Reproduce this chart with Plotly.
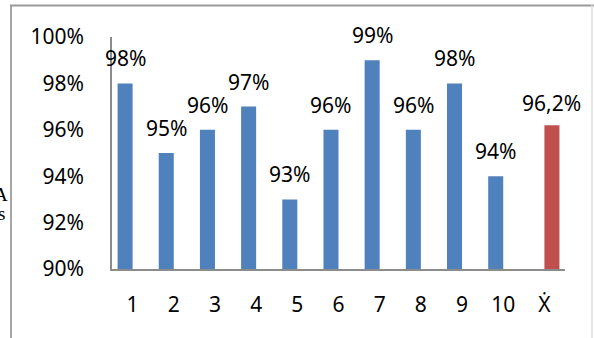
import plotly.graph_objects as go

categories = ["1", "2", "3", "4", "5", "6", "7", "8", "9", "10", "Ẋ"]
sample_cats = categories[:10]
sample_values = [0.98, 0.95, 0.96, 0.97, 0.93, 0.96, 0.99, 0.96, 0.98, 0.94]
sample_labels = ["98%", "95%", "96%", "97%", "93%", "96%", "99%", "96%", "98%", "94%"]
mean_cat = ["Ẋ"]
mean_value = [0.962]
mean_label = ["96,2%"]
y_ticks = [0.90, 0.92, 0.94, 0.96, 0.98, 1.00]
y_ticktext = ["90%", "92%", "94%", "96%", "98%", "100%"]

W, H = 594, 338
L, R, T, B = 112, 565, 37, 269
BW = 0.365  # bar width in category units

fig = go.Figure()
fig.add_trace(go.Bar(x=sample_cats, y=sample_values, marker_color="#4F81BD",
                     marker_line_width=0, width=BW, offset=-BW, name="s1"))
fig.add_trace(go.Bar(x=mean_cat, y=mean_value, marker_color="#C0504D",
                     marker_line_width=0, width=BW, offset=0, name="s2"))

font = dict(family="Noto Sans", size=21, color="#000000")
ann = []
for c, v, t in zip(sample_cats, sample_values, sample_labels):
    ann.append(dict(x=categories.index(c) - BW / 2, y=v, text=t, showarrow=False,
                    xref="x", yref="y", yshift=25, yanchor="middle", font=font))
for c, v, t in zip(mean_cat, mean_value, mean_label):
    ann.append(dict(x=categories.index(c) + BW / 2, y=v, text=t, showarrow=False,
                    xref="x", yref="y", yshift=22, yanchor="middle", font=font))

def px(x):
    return (x - L) / (R - L)

def py(y):
    return (B - y) / (B - T)

ann.append(dict(x=px(10), y=py(194), xref="paper", yref="paper", text="A",
                showarrow=False, xanchor="right", yanchor="middle",
                font=dict(family="Liberation Serif", size=19, color="#000")))
ann.append(dict(x=px(7), y=py(213), xref="paper", yref="paper", text="s",
                showarrow=False, xanchor="right", yanchor="middle",
                font=dict(family="Liberation Serif", size=19, color="#000")))

shapes = [
    dict(type="line", xref="paper", yref="paper", x0=px(11), x1=px(11), y0=py(5), y1=py(345),
         line=dict(color="#a6a6a6", width=2)),
    dict(type="line", xref="paper", yref="paper", x0=px(10), x1=px(600), y0=py(5.5), y1=py(5.5),
         line=dict(color="#9a9a9a", width=2)),
    dict(type="line", xref="paper", yref="paper", x0=px(592), x1=px(592), y0=py(5), y1=py(345),
         line=dict(color="#dddddd", width=1.5)),
]

fig.update_layout(
    width=W, height=H,
    margin=dict(l=L, r=W - R, t=T, b=H - B),
    paper_bgcolor="white", plot_bgcolor="white",
    barmode="overlay",
    showlegend=False,
    annotations=ann, shapes=shapes,
    font=font,
)
fig.update_xaxes(type="category", categoryorder="array", categoryarray=categories,
                 range=[-0.5, 10.5], showline=True, linecolor="#8c8c8c", linewidth=1.5,
                 showgrid=False, ticks="", tickfont=font, ticklabelstandoff=16)
fig.update_yaxes(range=[0.9, 1.0], tickvals=y_ticks, ticktext=y_ticktext,
                 showline=True, linecolor="#8c8c8c", linewidth=1.5,
                 showgrid=False, zeroline=False, ticks="", tickfont=font,
                 ticklabelstandoff=22)

fig.write_html("out.html")
